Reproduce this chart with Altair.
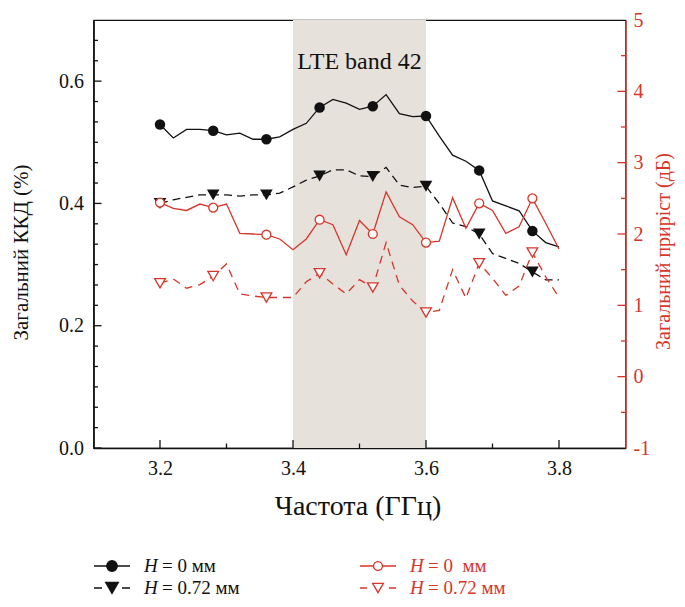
import altair as alt
import pandas as pd

# ---------------- data ----------------
freq = [3.20, 3.22, 3.24, 3.26, 3.28, 3.30, 3.32, 3.34, 3.36, 3.38,
        3.40, 3.42, 3.44, 3.46, 3.48, 3.50, 3.52, 3.54, 3.56, 3.58,
        3.60, 3.62, 3.64, 3.66, 3.68, 3.70, 3.72, 3.74, 3.76, 3.78, 3.80]
eff_h0 = [0.529, 0.507, 0.521, 0.521, 0.519, 0.512, 0.515, 0.505, 0.505, 0.509,
          0.521, 0.531, 0.557, 0.570, 0.564, 0.554, 0.559, 0.578, 0.547, 0.542,
          0.543, 0.510, 0.479, 0.469, 0.454, 0.404, 0.396, 0.388, 0.355, 0.336, 0.329]
eff_h072 = [0.400, 0.406, 0.410, 0.414, 0.414, 0.414, 0.412, 0.414, 0.414, 0.417,
            0.427, 0.438, 0.445, 0.455, 0.455, 0.445, 0.444, 0.459, 0.430, 0.426,
            0.428, 0.400, 0.368, 0.362, 0.350, 0.318, 0.310, 0.302, 0.288, 0.275, 0.275]
gain_h0 = [2.44, 2.36, 2.33, 2.42, 2.37, 2.42, 2.01, 2.00, 1.99, 1.93,
           1.78, 1.93, 2.20, 2.13, 1.71, 2.19, 2.00, 2.59, 2.24, 2.13,
           1.88, 1.90, 2.51, 2.08, 2.43, 2.33, 2.01, 2.10, 2.50, 2.15, 1.79]
gain_h072 = [1.31, 1.37, 1.24, 1.29, 1.41, 1.58, 1.16, 1.13, 1.11, 1.11,
             1.11, 1.33, 1.45, 1.30, 1.16, 1.36, 1.25, 1.88, 1.28, 1.06,
             0.90, 0.93, 1.50, 1.10, 1.59, 1.38, 1.14, 1.27, 1.74, 1.40, 1.11]
marker_freq = [3.20, 3.28, 3.36, 3.44, 3.52, 3.60, 3.68, 3.76]
band = [3.4, 3.6]
band_label = "LTE band 42"
x_labels = [3.2, 3.4, 3.6, 3.8]
x_minor = [3.3, 3.5, 3.7]
left_major = [0.0, 0.2, 0.4, 0.6]
left_minor = [i / 30 for i in range(1, 21) if i % 6 != 0]
right_major = [-1, 0, 1, 2, 3, 4, 5]
right_minor = [-0.5, 0.5, 1.5, 2.5, 3.5, 4.5]
legend_labels = ["= 0 мм", "= 0.72 мм", "= 0\u00a0 мм", "= 0.72 мм"]

# ---------------- style ----------------
W, H = 532, 428
BLACK = "#111111"
RED = "#d8352a"
BAND = "#e7e1db"
FONT = "'Liberation Serif', 'Times New Roman', 'DejaVu Serif', serif"

df = pd.DataFrame(dict(f=freq, e0=eff_h0, e72=eff_h072, g0=gain_h0, g72=gain_h072))
mset = {round(v, 2) for v in marker_freq}
mk = df[df["f"].round(2).isin(mset)]

xs = alt.Scale(domain=[3.1, 3.9], nice=False, zero=False)
ys_l = alt.Scale(domain=[0, 0.7], nice=False, zero=False)
ys_r = alt.Scale(domain=[-1, 5], nice=False, zero=False)

X_AXIS = alt.Axis(values=x_labels, format=".1f", ticks=False, tickSize=0, grid=False,
                  labelPadding=10, labelFlush=False, labelFontSize=20, labelColor=BLACK,
                  domainColor=BLACK, domainWidth=1.3,
                  title="Частота (ГГц)", titleFontSize=28, titleColor=BLACK,
                  titleFontWeight="normal", titleX=264, titleY=58, titleBaseline="middle",
                  titleAlign="center")
LEFT_AXIS = alt.Axis(values=left_major, format=".1f", ticks=False, tickSize=0, grid=False,
                     labelPadding=10, labelFlush=False, labelFontSize=20, labelColor=BLACK,
                     domainColor=BLACK, domainWidth=1.6,
                     title="Загальний ККД (%)", titleFontSize=21, titleColor=BLACK,
                     titleFontWeight="normal", titleAngle=270, titleX=-72, titleY=232,
                     titleBaseline="middle", titleAlign="center")
RIGHT_AXIS = alt.Axis(orient="right", values=right_major, labelExpr="'' + datum.value",
                      ticks=False, tickSize=0, grid=False,
                      labelPadding=7.5, labelFlush=False, labelFontSize=20, labelColor=RED,
                      domainColor=RED, domainWidth=1.3,
                      title="Загальний приріст (дБ)", titleFontSize=20, titleColor=RED,
                      titleFontWeight="normal", titleAngle=270, titleX=38, titleY=231,
                      titleBaseline="middle", titleAlign="center")


def X(field="f"):
    return alt.X(f"{field}:Q", scale=xs, axis=X_AXIS)


def YL(field):
    return alt.Y(f"{field}:Q", scale=ys_l, axis=LEFT_AXIS)


def YR(field):
    return alt.Y(f"{field}:Q", scale=ys_r, axis=RIGHT_AXIS)


# ---------------- left (efficiency) group ----------------
band_df = pd.DataFrame({"f": [band[0]], "f1": [band[1]]})
band_rect = alt.Chart(band_df).mark_rect(color=BAND).encode(x=X(), x2="f1:Q")
band_txt = alt.Chart(pd.DataFrame({"f": [(band[0] + band[1]) / 2]})).mark_text(
    font=FONT, fontSize=24, color=BLACK, baseline="middle", align="center"
).encode(x=X(), y=alt.value(42), text=alt.value(band_label))

blk_solid = alt.Chart(df).mark_line(color=BLACK, strokeWidth=1.3).encode(x=X(), y=YL("e0"))
blk_dash = alt.Chart(df).mark_line(color=BLACK, strokeWidth=1.3, strokeDash=[8, 5]).encode(
    x=X(), y=YL("e72"))
blk_circ = alt.Chart(mk).mark_point(shape="circle", filled=True, color=BLACK, size=110,
                                    opacity=1).encode(x=X(), y=YL("e0"))
blk_tri = alt.Chart(mk).mark_point(shape="triangle-down", filled=True, color=BLACK, size=160,
                                   opacity=1).encode(x=X(), y=YL("e72"))

lmaj = alt.Chart(pd.DataFrame({"v": left_major})).mark_rule(color=BLACK, strokeWidth=1.3).encode(
    y=YL("v"), x=alt.value(0), x2=alt.value(8))
lmin = alt.Chart(pd.DataFrame({"v": left_minor})).mark_rule(color=BLACK, strokeWidth=1.3).encode(
    y=YL("v"), x=alt.value(0), x2=alt.value(4.5))
xmaj = alt.Chart(pd.DataFrame({"f": x_labels})).mark_rule(color=BLACK, strokeWidth=1.3).encode(
    x=X(), y=alt.value(H), y2=alt.value(H - 8))
xmin = alt.Chart(pd.DataFrame({"f": x_minor})).mark_rule(color=BLACK, strokeWidth=1.3).encode(
    x=X(), y=alt.value(H), y2=alt.value(H - 4.5))

left = alt.layer(band_rect, band_txt, blk_solid, blk_dash, blk_circ, blk_tri,
                 lmaj, lmin, xmaj, xmin)

# ---------------- right (gain) group ----------------
red_solid = alt.Chart(df).mark_line(color=RED, strokeWidth=1.3).encode(x=X(), y=YR("g0"))
red_dash = alt.Chart(df).mark_line(color=RED, strokeWidth=1.3, strokeDash=[8, 6]).encode(
    x=X(), y=YR("g72"))
red_circ = alt.Chart(mk).mark_point(shape="circle", filled=True, fill="white", stroke=RED,
                                    strokeWidth=1.3, size=80, opacity=1).encode(x=X(), y=YR("g0"))
red_tri = alt.Chart(mk).mark_point(shape="triangle-down", filled=True, fill="white", stroke=RED,
                                   strokeWidth=1.3, size=115, opacity=1).encode(x=X(), y=YR("g72"))
rmaj = alt.Chart(pd.DataFrame({"v": right_major[1:-1]})).mark_rule(color=RED, strokeWidth=1.3).encode(
    y=YR("v"), x=alt.value(W), x2=alt.value(W - 8))
rmin = alt.Chart(pd.DataFrame({"v": right_minor})).mark_rule(color=RED, strokeWidth=1.3).encode(
    y=YR("v"), x=alt.value(W), x2=alt.value(W - 4.5))

right = alt.layer(red_solid, red_dash, red_circ, red_tri, rmaj, rmin)

# ---------------- legend (drawn below the plot) ----------------
one = pd.DataFrame({"k": [0]})


def legend_item(x0, y, color, dash, shape, size, fill, label):
    base = alt.Chart(one)
    rule_kw = dict(color=color, strokeWidth=1.3)
    if dash:
        rule_kw["strokeDash"] = dash
    seg = base.mark_rule(**rule_kw).encode(x=alt.value(x0), x2=alt.value(x0 + 36), y=alt.value(y))
    sym = base.mark_point(shape=shape, filled=True, fill=fill, stroke=color, strokeWidth=1.3,
                          size=size, opacity=1).encode(x=alt.value(x0 + 18), y=alt.value(y))
    h = base.mark_text(font=FONT, fontSize=19, fontStyle="italic", color=color, align="left",
                       baseline="middle").encode(x=alt.value(x0 + 50), y=alt.value(y),
                                                 text=alt.value("H"))
    rest = base.mark_text(font=FONT, fontSize=19, color=color, align="left",
                          baseline="middle").encode(x=alt.value(x0 + 68), y=alt.value(y),
                                                    text=alt.value(label))
    return [seg, sym, h, rest]


leg = []
leg += legend_item(0.5, 546, BLACK, None, "circle", 110, BLACK, legend_labels[0])
leg += legend_item(0.5, 568, BLACK, [8, 20], "triangle-down", 160, BLACK, legend_labels[1])
leg += legend_item(266.5, 546, RED, None, "circle", 80, "white", legend_labels[2])
leg += legend_item(266.5, 568, RED, [7, 22], "triangle-down", 115, "white", legend_labels[3])

chart = alt.layer(left, right, *leg).resolve_scale(y="independent").properties(
    width=W, height=H,
    autosize=alt.AutoSizeParams(type="none"),
    padding={"left": 85.5, "top": 12, "right": 51.5, "bottom": 151},
).configure_view(stroke=BLACK, strokeWidth=1.2).configure_axis(
    labelFont=FONT, titleFont=FONT
).configure_text(font=FONT)

chart.save("out.html", embed_options={"renderer": "svg", "actions": False})
